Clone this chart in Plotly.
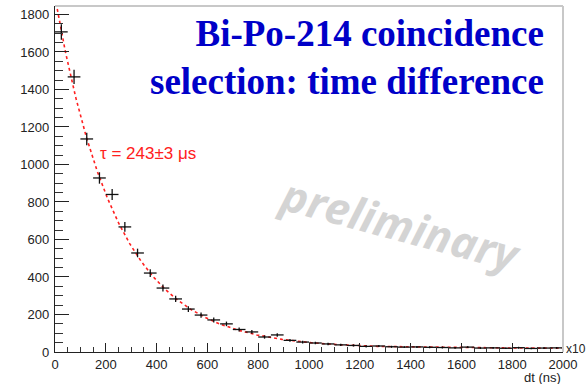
import numpy as np
import plotly.graph_objects as go

# Histogram of coincidence time differences (bin width 50)
bin_centers = [25, 75, 125, 175, 225, 275, 325, 375, 425, 475,
               525, 575, 625, 675, 725, 775, 825, 875, 925, 975,
               1025, 1075, 1125, 1175, 1225, 1275, 1325, 1375, 1425, 1475,
               1525, 1575, 1625, 1675, 1725, 1775, 1825, 1875, 1925, 1975]
counts = [1707, 1467, 1136, 928, 840, 667, 528, 421, 341, 283,
          229, 197, 171, 150, 120, 107, 80, 91, 62, 53,
          48, 43, 38, 35, 30, 32, 28, 26, 27, 25,
          24, 22, 26, 21, 22, 20, 23, 19, 21, 22]
half_width = [25] * len(bin_centers)

# Exponential fit parameters
fit_amp = 1872.0
fit_tau = 243.0
fit_const = 20.0

x_ticks = [0, 200, 400, 600, 800, 1000, 1200, 1400, 1600, 1800, 2000]
y_ticks = [0, 200, 400, 600, 800, 1000, 1200, 1400, 1600, 1800]

t_fit = np.linspace(0, 2000, 800)
n_fit = fit_amp * np.exp(-t_fit / fit_tau) + fit_const

fig = go.Figure()

fig.add_trace(go.Scatter(
    x=t_fit, y=n_fit, mode="lines",
    line=dict(color="#ff2020", width=1.6, dash="dot"),
    hoverinfo="skip", showlegend=False,
))

fig.add_trace(go.Scatter(
    x=bin_centers, y=counts, mode="markers",
    marker=dict(size=1, color="black"),
    error_x=dict(type="data", array=half_width, width=0, thickness=1.3, color="#111"),
    error_y=dict(type="data", array=list(np.sqrt(counts)), width=0, thickness=1.3, color="#111"),
    showlegend=False,
))

axis_font = dict(family="Liberation Sans, Arial, sans-serif", size=13, color="#222")

fig.update_layout(
    width=587, height=384,
    margin=dict(l=55, r=24, t=6, b=32),
    paper_bgcolor="white", plot_bgcolor="white",
    xaxis=dict(
        range=[0, 2000], tickvals=x_ticks, ticks="inside", ticklen=9,
        tickcolor="#222", tickwidth=1.2, showgrid=False, zeroline=False,
        showline=True, linecolor="#222", linewidth=1.3, tickfont=axis_font,
        minor=dict(dtick=50, ticks="inside", ticklen=5, tickcolor="#333", tick0=0),
        ticklabelstandoff=0,
    ),
    yaxis=dict(
        range=[0, 1845], tickvals=y_ticks, ticks="inside", ticklen=14,
        tickcolor="#222", tickwidth=1.2, showgrid=False, zeroline=False,
        showline=True, linecolor="#222", linewidth=1.3, tickfont=axis_font,
        minor=dict(dtick=50, ticks="inside", ticklen=8, tickcolor="#333", tick0=0),
        ticklabelstandoff=2,
    ),
)

# light frame on the top and right edges
fig.add_shape(type="line", xref="paper", yref="paper", x0=0, x1=1, y0=1, y1=1,
              line=dict(color="#c8c8c8", width=2))
fig.add_shape(type="line", xref="paper", yref="paper", x0=1, x1=1, y0=0, y1=1,
              line=dict(color="#c8c8c8", width=2))

title_font = dict(family="Liberation Serif, Times New Roman, serif", size=37, color="#0000c8")
fig.add_annotation(xref="paper", yref="paper", x=0.966, y=0.985, xanchor="right", yanchor="top",
                   text="<b>Bi-Po-214 coincidence<br>selection: time difference</b>",
                   showarrow=False, align="right", font=title_font)

fig.add_annotation(x=1360, y=680, text="<b><i>preliminary</i></b>", showarrow=False,
                   textangle=15,
                   font=dict(family="Open Sans, Arial, sans-serif", size=44, color="#d4d4d4"))

fig.add_annotation(x=168, y=1060, xanchor="left", text="τ = 243±3 μs", showarrow=False,
                   font=dict(family="Liberation Sans, Arial, sans-serif", size=17, color="#ff2020"))

fig.add_annotation(xref="paper", yref="paper", x=1.0, y=0.0, xanchor="left", yanchor="bottom",
                   text="x10", showarrow=False, font=dict(axis_font, size=12), xshift=1, yshift=-6)
fig.add_annotation(xref="paper", yref="paper", x=1.0, y=0.0, xanchor="right", yanchor="top",
                   text="dt (ns)", showarrow=False, font=axis_font, yshift=-16)

fig.write_html("out.html")
